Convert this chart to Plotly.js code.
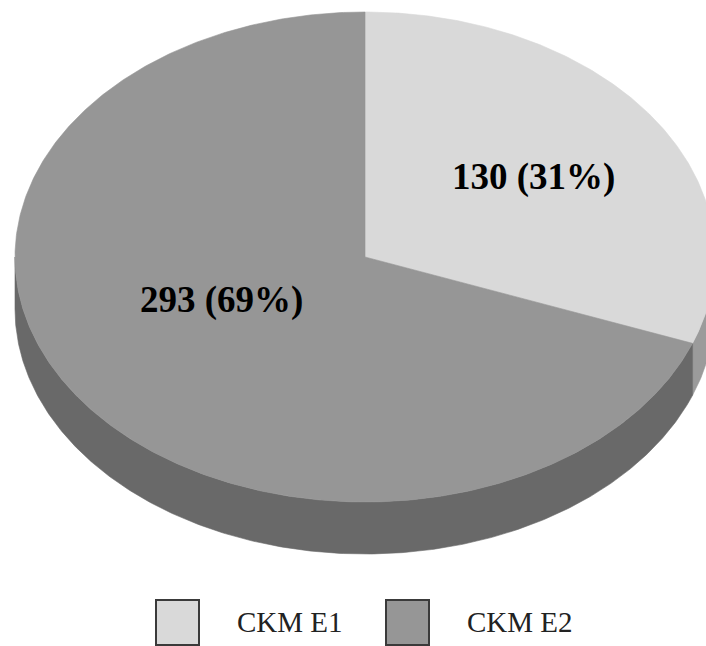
<!DOCTYPE html>
<html>
<head>
<meta charset="utf-8">
<script src="https://cdn.plot.ly/plotly-3.0.1.min.js"></script>
<style>html,body{margin:0;padding:0;background:#fff;}#chart{width:706px;height:646px;}</style>
</head>
<body>
<div id="chart"></div>
<script>
// ---- data ----
const categories = ["CKM E1", "CKM E2"];
const values = [130, 293];
const topColors = ["#d9d9d9", "#969696"];
const sideColors = ["#9b9b9b", "#696969"];

// ---- geometry (layout constants, pixel-space axes) ----
const W = 706, H = 646;
const CX = 365, CY = 257, RX = 350, RY = 245, DEPTH = 52;
const labelPos = [[533, 177], [221, 300]];
const legendSwatchX = [156, 386];
const legendTextX = [235, 465];
const legendY0 = 600, legendY1 = 645, legendTextY = 622;

const total = values.reduce((a, b) => a + b, 0);
const deg = Math.PI / 180;
function pt(theta, dy) { // theta clockwise from top, degrees
  return [CX + RX * Math.sin(theta * deg), CY - RY * Math.cos(theta * deg) + (dy || 0)];
}
function arc(a, b, dy) {
  const n = Math.max(2, Math.ceil(Math.abs(b - a) / 0.5));
  const out = [];
  for (let i = 0; i <= n; i++) out.push(pt(a + (b - a) * i / n, dy));
  return out;
}

// slice angle ranges
const ranges = [];
let acc = 0;
values.forEach(v => { const a = acc / total * 360; acc += v; ranges.push([a, acc / total * 360]); });

const traces = [];
// side faces (front half: theta in [90, 270])
ranges.forEach((r, i) => {
  const a = Math.max(r[0], 90), b = Math.min(r[1], 270);
  if (b <= a) return;
  const top = arc(a, b, 0), bot = arc(b, a, DEPTH);
  const pts = top.concat(bot);
  pts.push(top[0]);
  traces.push({
    type: "scatter", mode: "lines", fill: "toself",
    x: pts.map(p => p[0]), y: pts.map(p => p[1]),
    fillcolor: sideColors[i], line: { color: sideColors[i], width: 0.6 },
    hoverinfo: "skip", showlegend: false
  });
});
// top faces
ranges.forEach((r, i) => {
  const pts = [[CX, CY]].concat(arc(r[0], r[1], 0));
  pts.push([CX, CY]);
  traces.push({
    type: "scatter", mode: "lines", fill: "toself",
    x: pts.map(p => p[0]), y: pts.map(p => p[1]),
    fillcolor: topColors[i], line: { color: topColors[i], width: 0.6 },
    hoverinfo: "text", text: categories[i], showlegend: false
  });
});

const annotations = values.map((v, i) => ({
  x: labelPos[i][0], y: labelPos[i][1], xref: "x", yref: "y",
  text: v + " (" + Math.round(v / total * 100) + "%)",
  showarrow: false, xanchor: "center", yanchor: "middle",
  font: { family: "Liberation Serif, Times New Roman, serif", size: 37, color: "#000", weight: "bold" }
}));
categories.forEach((c, i) => annotations.push({
  x: legendTextX[i], y: legendTextY, xref: "x", yref: "y",
  text: c, showarrow: false, xanchor: "left", yanchor: "middle",
  font: { family: "Liberation Serif, Times New Roman, serif", size: 29, color: "#222" }
}));

const shapes = categories.map((c, i) => ({
  type: "rect", xref: "x", yref: "y",
  x0: legendSwatchX[i], x1: legendSwatchX[i] + 43, y0: legendY0, y1: legendY1,
  fillcolor: topColors[i], line: { color: "#3a3a3a", width: 2 }
}));

const layout = {
  width: W, height: H,
  margin: { l: 0, r: 0, t: 0, b: 0, pad: 0 },
  paper_bgcolor: "#fff", plot_bgcolor: "#fff",
  xaxis: { range: [0, W], visible: false, fixedrange: true },
  yaxis: { range: [H, 0], visible: false, fixedrange: true },
  showlegend: false,
  annotations: annotations,
  shapes: shapes
};

Plotly.newPlot("chart", traces, layout, { staticPlot: true, displayModeBar: false });
</script>
</body>
</html>
